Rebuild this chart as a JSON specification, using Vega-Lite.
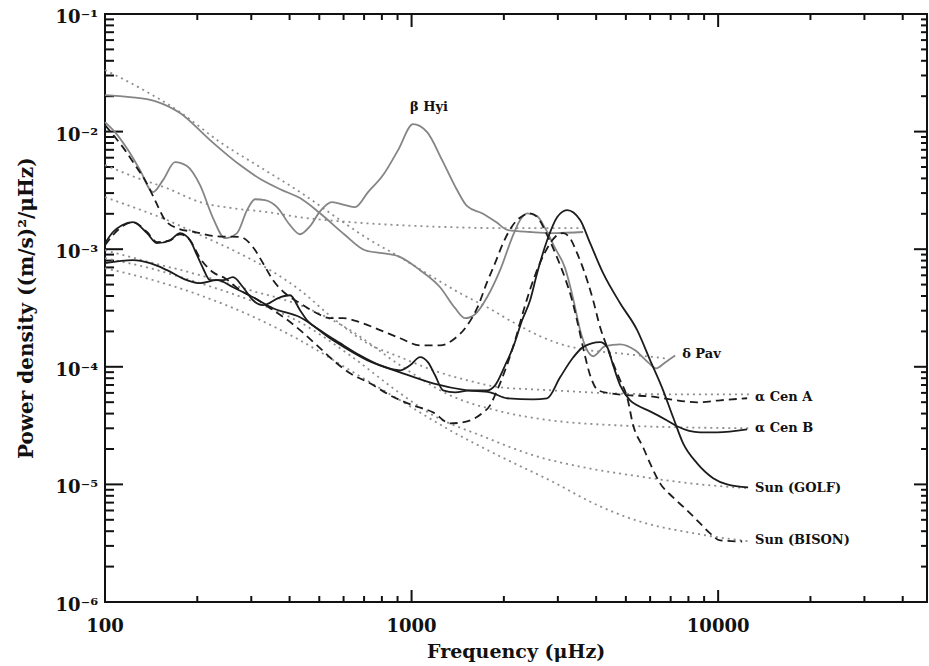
{
  "$schema": "https://vega.github.io/schema/vega-lite/v6.json",
  "autosize": {"type": "none"},
  "width": 822,
  "height": 588,
  "padding": {"left": 105, "top": 14, "right": 2, "bottom": 64},
  "background": "white",
  "config": {
    "view": {"stroke": "#111", "strokeWidth": 2}
  },
  "datasets": {
    "spectra": [
      {"star": "β Hyi", "f": 100, "p": 0.01205}, {"star": "β Hyi", "f": 107.8, "p": 0.0099}, {"star": "β Hyi", "f": 118.9, "p": 0.00696},
      {"star": "β Hyi", "f": 130.1, "p": 0.0047}, {"star": "β Hyi", "f": 143.4, "p": 0.00306}, {"star": "β Hyi", "f": 154.6, "p": 0.00387},
      {"star": "β Hyi", "f": 169.2, "p": 0.0055}, {"star": "β Hyi", "f": 185.1, "p": 0.00509}, {"star": "β Hyi", "f": 204.2, "p": 0.0035},
      {"star": "β Hyi", "f": 225.1, "p": 0.00184}, {"star": "β Hyi", "f": 246.4, "p": 0.00124}, {"star": "β Hyi", "f": 269.6, "p": 0.00137},
      {"star": "β Hyi", "f": 290.6, "p": 0.00215}, {"star": "β Hyi", "f": 308.6, "p": 0.00266}, {"star": "β Hyi", "f": 332.7, "p": 0.00261},
      {"star": "β Hyi", "f": 364.1, "p": 0.00228}, {"star": "β Hyi", "f": 401.4, "p": 0.0016}, {"star": "β Hyi", "f": 432.7, "p": 0.00134},
      {"star": "β Hyi", "f": 466.5, "p": 0.00157}, {"star": "β Hyi", "f": 502.8, "p": 0.0021}, {"star": "β Hyi", "f": 550.3, "p": 0.00251},
      {"star": "β Hyi", "f": 606.7, "p": 0.00237}, {"star": "β Hyi", "f": 654.1, "p": 0.00228}, {"star": "β Hyi", "f": 721.2, "p": 0.00306},
      {"star": "β Hyi", "f": 807.3, "p": 0.00427}, {"star": "β Hyi", "f": 903.6, "p": 0.00696}, {"star": "β Hyi", "f": 1011, "p": 0.01158},
      {"star": "β Hyi", "f": 1124, "p": 0.0099}, {"star": "β Hyi", "f": 1258, "p": 0.00572}, {"star": "β Hyi", "f": 1397, "p": 0.0033},
      {"star": "β Hyi", "f": 1518, "p": 0.00232}, {"star": "β Hyi", "f": 1698, "p": 0.00202}, {"star": "β Hyi", "f": 1887, "p": 0.0017},
      {"star": "β Hyi", "f": 2065, "p": 0.00145}, {"star": "β Hyi", "f": 2436, "p": 0.0014}, {"star": "β Hyi", "f": 2939, "p": 0.00137},
      {"star": "β Hyi", "f": 3627, "p": 0.0014},

      {"star": "δ Pav", "f": 100, "p": 0.02044}, {"star": "δ Pav", "f": 120.6, "p": 0.01966}, {"star": "δ Pav", "f": 145.6, "p": 0.01818},
      {"star": "δ Pav", "f": 175.7, "p": 0.01437}, {"star": "δ Pav", "f": 220.1, "p": 0.00847}, {"star": "δ Pav", "f": 275.8, "p": 0.00519},
      {"star": "δ Pav", "f": 325.3, "p": 0.00387}, {"star": "δ Pav", "f": 378, "p": 0.00318}, {"star": "δ Pav", "f": 432.7, "p": 0.00272},
      {"star": "δ Pav", "f": 502.8, "p": 0.00202}, {"star": "δ Pav", "f": 606.7, "p": 0.00132}, {"star": "δ Pav", "f": 705.2, "p": 0.00098},
      {"star": "δ Pav", "f": 801.3, "p": 0.000925}, {"star": "δ Pav", "f": 903.6, "p": 0.000872}, {"star": "δ Pav", "f": 1066, "p": 0.000663},
      {"star": "δ Pav", "f": 1239, "p": 0.000475}, {"star": "δ Pav", "f": 1387, "p": 0.000315}, {"star": "δ Pav", "f": 1495, "p": 0.000259},
      {"star": "δ Pav", "f": 1612, "p": 0.00028}, {"star": "δ Pav", "f": 1763, "p": 0.00039}, {"star": "δ Pav", "f": 1944, "p": 0.000663},
      {"star": "δ Pav", "f": 2144, "p": 0.00132}, {"star": "δ Pav", "f": 2260, "p": 0.00177}, {"star": "δ Pav", "f": 2382, "p": 0.00202},
      {"star": "δ Pav", "f": 2567, "p": 0.00191}, {"star": "δ Pav", "f": 2726, "p": 0.00151}, {"star": "δ Pav", "f": 2939, "p": 0.00102},
      {"star": "δ Pav", "f": 3168, "p": 0.00069}, {"star": "δ Pav", "f": 3365, "p": 0.00038}, {"star": "δ Pav", "f": 3547, "p": 0.000205},
      {"star": "δ Pav", "f": 3710, "p": 0.000144}, {"star": "δ Pav", "f": 3910, "p": 0.000123}, {"star": "δ Pav", "f": 4279, "p": 0.00015},
      {"star": "δ Pav", "f": 4790, "p": 0.000155}, {"star": "δ Pav", "f": 5362, "p": 0.000138}, {"star": "δ Pav", "f": 5908, "p": 0.000109},
      {"star": "δ Pav", "f": 6276, "p": 0.000097}, {"star": "δ Pav", "f": 6715, "p": 0.000109}, {"star": "δ Pav", "f": 7238, "p": 0.000125},

      {"star": "α Cen A", "f": 100, "p": 0.01136}, {"star": "α Cen A", "f": 107.8, "p": 0.00898}, {"star": "α Cen A", "f": 116.2, "p": 0.00696},
      {"star": "α Cen A", "f": 125.3, "p": 0.00519}, {"star": "α Cen A", "f": 135.1, "p": 0.00387}, {"star": "α Cen A", "f": 145.6, "p": 0.00261},
      {"star": "α Cen A", "f": 157, "p": 0.00177}, {"star": "α Cen A", "f": 171.8, "p": 0.00151}, {"star": "α Cen A", "f": 196.6, "p": 0.0014},
      {"star": "α Cen A", "f": 228.6, "p": 0.00129}, {"star": "α Cen A", "f": 275.8, "p": 0.00127}, {"star": "α Cen A", "f": 304, "p": 0.00104},
      {"star": "α Cen A", "f": 327.7, "p": 0.00076}, {"star": "α Cen A", "f": 353.3, "p": 0.000545}, {"star": "α Cen A", "f": 386.6, "p": 0.000422},
      {"star": "α Cen A", "f": 432.7, "p": 0.000347}, {"star": "α Cen A", "f": 484.3, "p": 0.000291}, {"star": "α Cen A", "f": 542.1, "p": 0.000259},
      {"star": "α Cen A", "f": 597.7, "p": 0.000259}, {"star": "α Cen A", "f": 679.2, "p": 0.000239}, {"star": "α Cen A", "f": 789.3, "p": 0.000205},
      {"star": "α Cen A", "f": 917.3, "p": 0.000175}, {"star": "α Cen A", "f": 1066, "p": 0.000152}, {"star": "α Cen A", "f": 1239, "p": 0.000152},
      {"star": "α Cen A", "f": 1387, "p": 0.000175}, {"star": "α Cen A", "f": 1495, "p": 0.000213}, {"star": "α Cen A", "f": 1636, "p": 0.000315},
      {"star": "α Cen A", "f": 1763, "p": 0.000524}, {"star": "α Cen A", "f": 1872, "p": 0.00076}, {"star": "α Cen A", "f": 1988, "p": 0.001125},
      {"star": "α Cen A", "f": 2128, "p": 0.00157}, {"star": "α Cen A", "f": 2294, "p": 0.00191}, {"star": "α Cen A", "f": 2436, "p": 0.00202},
      {"star": "α Cen A", "f": 2587, "p": 0.00184}, {"star": "α Cen A", "f": 2768, "p": 0.00132}, {"star": "α Cen A", "f": 2961, "p": 0.00089},
      {"star": "α Cen A", "f": 3168, "p": 0.000566}, {"star": "α Cen A", "f": 3339, "p": 0.000368}, {"star": "α Cen A", "f": 3494, "p": 0.000226},
      {"star": "α Cen A", "f": 3655, "p": 0.000133}, {"star": "α Cen A", "f": 3823, "p": 0.0000847}, {"star": "α Cen A", "f": 4060, "p": 0.0000631},
      {"star": "α Cen A", "f": 4443, "p": 0.0000595}, {"star": "α Cen A", "f": 5164, "p": 0.0000572}, {"star": "α Cen A", "f": 5997, "p": 0.0000561},
      {"star": "α Cen A", "f": 6971, "p": 0.0000529}, {"star": "α Cen A", "f": 8541, "p": 0.0000499}, {"star": "α Cen A", "f": 10150, "p": 0.0000519},
      {"star": "α Cen A", "f": 12432, "p": 0.000054},

      {"star": "α Cen B", "f": 100, "p": 0.00076}, {"star": "α Cen B", "f": 123.4, "p": 0.000806}, {"star": "α Cen B", "f": 140.3, "p": 0.00076},
      {"star": "α Cen B", "f": 159.4, "p": 0.000663}, {"star": "α Cen B", "f": 185.1, "p": 0.000545}, {"star": "α Cen B", "f": 204.2, "p": 0.000514},
      {"star": "α Cen B", "f": 232, "p": 0.000545}, {"star": "α Cen B", "f": 261.6, "p": 0.000475}, {"star": "α Cen B", "f": 304, "p": 0.00039},
      {"star": "α Cen B", "f": 353.3, "p": 0.000315}, {"star": "α Cen B", "f": 432.7, "p": 0.000264}, {"star": "α Cen B", "f": 554.4, "p": 0.000168},
      {"star": "α Cen B", "f": 715.9, "p": 0.000114}, {"star": "α Cen B", "f": 917.3, "p": 0.0000898}, {"star": "α Cen B", "f": 1175, "p": 0.0000724},
      {"star": "α Cen B", "f": 1518, "p": 0.0000631}, {"star": "α Cen B", "f": 1803, "p": 0.0000607}, {"star": "α Cen B", "f": 2049, "p": 0.000054},
      {"star": "α Cen B", "f": 2491, "p": 0.0000529}, {"star": "α Cen B", "f": 2768, "p": 0.000054}, {"star": "α Cen B", "f": 3051, "p": 0.0000814},
      {"star": "α Cen B", "f": 3365, "p": 0.00012}, {"star": "α Cen B", "f": 3627, "p": 0.000147}, {"star": "α Cen B", "f": 4121, "p": 0.000162},
      {"star": "α Cen B", "f": 4344, "p": 0.000147}, {"star": "α Cen B", "f": 4544, "p": 0.000103}, {"star": "α Cen B", "f": 4790, "p": 0.0000696},
      {"star": "α Cen B", "f": 5164, "p": 0.0000519}, {"star": "α Cen B", "f": 5443, "p": 0.000047}, {"star": "α Cen B", "f": 5997, "p": 0.0000418},
      {"star": "α Cen B", "f": 6816, "p": 0.000035}, {"star": "α Cen B", "f": 7347, "p": 0.0000312}, {"star": "α Cen B", "f": 8736, "p": 0.0000277},
      {"star": "α Cen B", "f": 9925, "p": 0.0000277}, {"star": "α Cen B", "f": 12432, "p": 0.0000294},

      {"star": "Sun (GOLF)", "f": 100, "p": 0.001125}, {"star": "Sun (GOLF)", "f": 106.2, "p": 0.0014}, {"star": "Sun (GOLF)", "f": 113.6, "p": 0.0016},
      {"star": "Sun (GOLF)", "f": 123.4, "p": 0.0017}, {"star": "Sun (GOLF)", "f": 137.1, "p": 0.00137}, {"star": "Sun (GOLF)", "f": 147.8, "p": 0.001125},
      {"star": "Sun (GOLF)", "f": 162.9, "p": 0.00119}, {"star": "Sun (GOLF)", "f": 175.7, "p": 0.00137}, {"star": "Sun (GOLF)", "f": 189.4, "p": 0.00119},
      {"star": "Sun (GOLF)", "f": 199.6, "p": 0.000889}, {"star": "Sun (GOLF)", "f": 208.8, "p": 0.000689}, {"star": "Sun (GOLF)", "f": 220.1, "p": 0.000545},
      {"star": "Sun (GOLF)", "f": 242.7, "p": 0.000545}, {"star": "Sun (GOLF)", "f": 261.6, "p": 0.000578}, {"star": "Sun (GOLF)", "f": 282, "p": 0.000475},
      {"star": "Sun (GOLF)", "f": 304, "p": 0.000368}, {"star": "Sun (GOLF)", "f": 327.7, "p": 0.000334}, {"star": "Sun (GOLF)", "f": 372.4, "p": 0.00039},
      {"star": "Sun (GOLF)", "f": 401.4, "p": 0.000406}, {"star": "Sun (GOLF)", "f": 432.7, "p": 0.000303}, {"star": "Sun (GOLF)", "f": 456.1, "p": 0.000249},
      {"star": "Sun (GOLF)", "f": 502.8, "p": 0.000205}, {"star": "Sun (GOLF)", "f": 584.4, "p": 0.000159}, {"star": "Sun (GOLF)", "f": 679.2, "p": 0.000125},
      {"star": "Sun (GOLF)", "f": 789.3, "p": 0.000103}, {"star": "Sun (GOLF)", "f": 917.3, "p": 0.0000934}, {"star": "Sun (GOLF)", "f": 988.8, "p": 0.000103},
      {"star": "Sun (GOLF)", "f": 1066, "p": 0.000121}, {"star": "Sun (GOLF)", "f": 1132, "p": 0.000109}, {"star": "Sun (GOLF)", "f": 1193, "p": 0.0000847},
      {"star": "Sun (GOLF)", "f": 1267, "p": 0.0000631}, {"star": "Sun (GOLF)", "f": 1387, "p": 0.0000607}, {"star": "Sun (GOLF)", "f": 1552, "p": 0.0000631},
      {"star": "Sun (GOLF)", "f": 1763, "p": 0.0000631}, {"star": "Sun (GOLF)", "f": 1872, "p": 0.0000696}, {"star": "Sun (GOLF)", "f": 2019, "p": 0.000103},
      {"star": "Sun (GOLF)", "f": 2144, "p": 0.000147}, {"star": "Sun (GOLF)", "f": 2294, "p": 0.000249}, {"star": "Sun (GOLF)", "f": 2436, "p": 0.000368},
      {"star": "Sun (GOLF)", "f": 2567, "p": 0.000625}, {"star": "Sun (GOLF)", "f": 2768, "p": 0.00119}, {"star": "Sun (GOLF)", "f": 2983, "p": 0.00187},
      {"star": "Sun (GOLF)", "f": 3216, "p": 0.00215}, {"star": "Sun (GOLF)", "f": 3547, "p": 0.00177}, {"star": "Sun (GOLF)", "f": 3823, "p": 0.001125},
      {"star": "Sun (GOLF)", "f": 4215, "p": 0.000625}, {"star": "Sun (GOLF)", "f": 4790, "p": 0.000347}, {"star": "Sun (GOLF)", "f": 5443, "p": 0.000205},
      {"star": "Sun (GOLF)", "f": 5997, "p": 0.000114}, {"star": "Sun (GOLF)", "f": 6615, "p": 0.0000631}, {"star": "Sun (GOLF)", "f": 7130, "p": 0.0000372},
      {"star": "Sun (GOLF)", "f": 7688, "p": 0.0000223}, {"star": "Sun (GOLF)", "f": 8541, "p": 0.0000151}, {"star": "Sun (GOLF)", "f": 9632, "p": 0.0000113},
      {"star": "Sun (GOLF)", "f": 10700, "p": 0.00001}, {"star": "Sun (GOLF)", "f": 12526, "p": 0.00000943},

      {"star": "Sun (BISON)", "f": 100, "p": 0.00108}, {"star": "Sun (BISON)", "f": 106.2, "p": 0.00132}, {"star": "Sun (BISON)", "f": 111.9, "p": 0.00151},
      {"star": "Sun (BISON)", "f": 123.4, "p": 0.0017}, {"star": "Sun (BISON)", "f": 137.1, "p": 0.0014}, {"star": "Sun (BISON)", "f": 147.8, "p": 0.00115},
      {"star": "Sun (BISON)", "f": 162.9, "p": 0.00119}, {"star": "Sun (BISON)", "f": 175.7, "p": 0.00134}, {"star": "Sun (BISON)", "f": 189.4, "p": 0.00119},
      {"star": "Sun (BISON)", "f": 204.2, "p": 0.000838}, {"star": "Sun (BISON)", "f": 225.1, "p": 0.000637}, {"star": "Sun (BISON)", "f": 246.4, "p": 0.000566},
      {"star": "Sun (BISON)", "f": 275.8, "p": 0.000448}, {"star": "Sun (BISON)", "f": 308.6, "p": 0.000383}, {"star": "Sun (BISON)", "f": 345.4, "p": 0.000315},
      {"star": "Sun (BISON)", "f": 386.6, "p": 0.000259}, {"star": "Sun (BISON)", "f": 432.7, "p": 0.000205}, {"star": "Sun (BISON)", "f": 491.6, "p": 0.000152},
      {"star": "Sun (BISON)", "f": 554.4, "p": 0.000114}, {"star": "Sun (BISON)", "f": 630, "p": 0.000088}, {"star": "Sun (BISON)", "f": 732, "p": 0.0000724},
      {"star": "Sun (BISON)", "f": 851, "p": 0.0000572}, {"star": "Sun (BISON)", "f": 1011, "p": 0.000047}, {"star": "Sun (BISON)", "f": 1175, "p": 0.000041},
      {"star": "Sun (BISON)", "f": 1336, "p": 0.000033}, {"star": "Sun (BISON)", "f": 1518, "p": 0.0000344}, {"star": "Sun (BISON)", "f": 1698, "p": 0.0000402},
      {"star": "Sun (BISON)", "f": 1803, "p": 0.000047}, {"star": "Sun (BISON)", "f": 1901, "p": 0.0000631}, {"star": "Sun (BISON)", "f": 2019, "p": 0.0000934},
      {"star": "Sun (BISON)", "f": 2176, "p": 0.000168}, {"star": "Sun (BISON)", "f": 2346, "p": 0.000334}, {"star": "Sun (BISON)", "f": 2529, "p": 0.000601},
      {"star": "Sun (BISON)", "f": 2726, "p": 0.000943}, {"star": "Sun (BISON)", "f": 2939, "p": 0.00127}, {"star": "Sun (BISON)", "f": 3121, "p": 0.00137},
      {"star": "Sun (BISON)", "f": 3289, "p": 0.00124}, {"star": "Sun (BISON)", "f": 3467, "p": 0.000925}, {"star": "Sun (BISON)", "f": 3738, "p": 0.000545},
      {"star": "Sun (BISON)", "f": 3910, "p": 0.000368}, {"star": "Sun (BISON)", "f": 4121, "p": 0.000217}, {"star": "Sun (BISON)", "f": 4344, "p": 0.000147},
      {"star": "Sun (BISON)", "f": 4544, "p": 0.000107}, {"star": "Sun (BISON)", "f": 4790, "p": 0.0000768}, {"star": "Sun (BISON)", "f": 5049, "p": 0.000055},
      {"star": "Sun (BISON)", "f": 5282, "p": 0.0000318}, {"star": "Sun (BISON)", "f": 5691, "p": 0.0000207}, {"star": "Sun (BISON)", "f": 5997, "p": 0.0000151},
      {"star": "Sun (BISON)", "f": 6467, "p": 0.0000102}, {"star": "Sun (BISON)", "f": 7130, "p": 0.00000775}, {"star": "Sun (BISON)", "f": 7923, "p": 0.00000601},
      {"star": "Sun (BISON)", "f": 8736, "p": 0.00000466}, {"star": "Sun (BISON)", "f": 9416, "p": 0.00000383}, {"star": "Sun (BISON)", "f": 10150, "p": 0.00000334},
      {"star": "Sun (BISON)", "f": 11975, "p": 0.00000327}
    ],
    "fits": [
      {"star": "δ Pav", "f": 100, "p": 0.0334}, {"star": "δ Pav", "f": 130.1, "p": 0.02345}, {"star": "δ Pav", "f": 175.7, "p": 0.01466},
      {"star": "δ Pav", "f": 237.3, "p": 0.00814}, {"star": "δ Pav", "f": 320.4, "p": 0.00499}, {"star": "δ Pav", "f": 432.7, "p": 0.00306},
      {"star": "δ Pav", "f": 584.4, "p": 0.00177}, {"star": "δ Pav", "f": 715.9, "p": 0.00124}, {"star": "δ Pav", "f": 917.3, "p": 0.000855},
      {"star": "δ Pav", "f": 1175, "p": 0.000578}, {"star": "δ Pav", "f": 1440, "p": 0.000422}, {"star": "δ Pav", "f": 1763, "p": 0.000321},
      {"star": "δ Pav", "f": 2144, "p": 0.000239}, {"star": "δ Pav", "f": 2626, "p": 0.000182}, {"star": "δ Pav", "f": 3168, "p": 0.000152},
      {"star": "δ Pav", "f": 3823, "p": 0.000138}, {"star": "δ Pav", "f": 4790, "p": 0.00013}, {"star": "δ Pav", "f": 6715, "p": 0.000118},

      {"star": "β Hyi", "f": 100, "p": 0.00519}, {"star": "β Hyi", "f": 125.3, "p": 0.0041}, {"star": "β Hyi", "f": 159.4, "p": 0.0033},
      {"star": "β Hyi", "f": 204.2, "p": 0.00251}, {"star": "β Hyi", "f": 261.6, "p": 0.00223}, {"star": "β Hyi", "f": 337.7, "p": 0.00207},
      {"star": "β Hyi", "f": 432.7, "p": 0.00187}, {"star": "β Hyi", "f": 630, "p": 0.0017}, {"star": "β Hyi", "f": 917.3, "p": 0.0016},
      {"star": "β Hyi", "f": 1336, "p": 0.00154}, {"star": "β Hyi", "f": 1944, "p": 0.00151}, {"star": "β Hyi", "f": 3627, "p": 0.00151},

      {"star": "α Cen A", "f": 100, "p": 0.00277}, {"star": "α Cen A", "f": 123.4, "p": 0.00228}, {"star": "α Cen A", "f": 159.4, "p": 0.00177},
      {"star": "α Cen A", "f": 204.2, "p": 0.00132}, {"star": "α Cen A", "f": 261.6, "p": 0.00098}, {"star": "α Cen A", "f": 337.7, "p": 0.000689},
      {"star": "α Cen A", "f": 432.7, "p": 0.000448}, {"star": "α Cen A", "f": 554.4, "p": 0.000259}, {"star": "α Cen A", "f": 715.9, "p": 0.000159},
      {"star": "α Cen A", "f": 917.3, "p": 0.000121}, {"star": "α Cen A", "f": 1175, "p": 0.0000934}, {"star": "α Cen A", "f": 1518, "p": 0.0000768},
      {"star": "α Cen A", "f": 1944, "p": 0.0000669}, {"star": "α Cen A", "f": 2491, "p": 0.0000643}, {"star": "α Cen A", "f": 3289, "p": 0.0000619},
      {"star": "α Cen A", "f": 4443, "p": 0.0000595}, {"star": "α Cen A", "f": 7516, "p": 0.0000583}, {"star": "α Cen A", "f": 12717, "p": 0.0000583},

      {"star": "α Cen B", "f": 100, "p": 0.00098}, {"star": "α Cen B", "f": 140.3, "p": 0.000775}, {"star": "α Cen B", "f": 204.2, "p": 0.000601},
      {"star": "α Cen B", "f": 297.2, "p": 0.000448}, {"star": "α Cen B", "f": 432.7, "p": 0.000334}, {"star": "α Cen B", "f": 630, "p": 0.000205},
      {"star": "α Cen B", "f": 917.3, "p": 0.000103}, {"star": "α Cen B", "f": 1336, "p": 0.0000572}, {"star": "α Cen B", "f": 1944, "p": 0.0000418},
      {"star": "α Cen B", "f": 2831, "p": 0.0000351}, {"star": "α Cen B", "f": 4683, "p": 0.0000318}, {"star": "α Cen B", "f": 7516, "p": 0.0000306},
      {"star": "α Cen B", "f": 12717, "p": 0.00003},

      {"star": "Sun (GOLF)", "f": 100, "p": 0.000838}, {"star": "Sun (GOLF)", "f": 140.3, "p": 0.000689}, {"star": "Sun (GOLF)", "f": 204.2, "p": 0.000514},
      {"star": "Sun (GOLF)", "f": 297.2, "p": 0.000368}, {"star": "Sun (GOLF)", "f": 432.7, "p": 0.000239}, {"star": "Sun (GOLF)", "f": 630, "p": 0.000125},
      {"star": "Sun (GOLF)", "f": 917.3, "p": 0.0000595}, {"star": "Sun (GOLF)", "f": 1175, "p": 0.0000387}, {"star": "Sun (GOLF)", "f": 1711, "p": 0.0000256},
      {"star": "Sun (GOLF)", "f": 2491, "p": 0.0000177}, {"star": "Sun (GOLF)", "f": 3627, "p": 0.000014}, {"star": "Sun (GOLF)", "f": 5282, "p": 0.0000119},
      {"star": "Sun (GOLF)", "f": 8736, "p": 0.00001}, {"star": "Sun (GOLF)", "f": 12717, "p": 0.00000925},

      {"star": "Sun (BISON)", "f": 100, "p": 0.000689}, {"star": "Sun (BISON)", "f": 140.3, "p": 0.000555}, {"star": "Sun (BISON)", "f": 204.2, "p": 0.000406},
      {"star": "Sun (BISON)", "f": 297.2, "p": 0.000274}, {"star": "Sun (BISON)", "f": 432.7, "p": 0.000168}, {"star": "Sun (BISON)", "f": 630, "p": 0.0000934},
      {"star": "Sun (BISON)", "f": 917.3, "p": 0.0000519}, {"star": "Sun (BISON)", "f": 1336, "p": 0.0000288}, {"star": "Sun (BISON)", "f": 1944, "p": 0.0000173},
      {"star": "Sun (BISON)", "f": 2831, "p": 0.0000108}, {"star": "Sun (BISON)", "f": 4121, "p": 0.0000065}, {"star": "Sun (BISON)", "f": 5282, "p": 0.00000504},
      {"star": "Sun (BISON)", "f": 8736, "p": 0.00000376}, {"star": "Sun (BISON)", "f": 12717, "p": 0.00000327}
    ],
    "names": [
      {"star": "β Hyi", "f": 988, "p": 0.01616},
      {"star": "δ Pav", "f": 7630, "p": 0.000128},
      {"star": "α Cen A", "f": 13200, "p": 0.000055},
      {"star": "α Cen B", "f": 13200, "p": 0.00003},
      {"star": "Sun (GOLF)", "f": 13200, "p": 0.00000925},
      {"star": "Sun (BISON)", "f": 13200, "p": 0.00000334}
    ],
    "freqLabels": [
      {"text": "100", "f": 100, "p": 0.000000738},
      {"text": "1000", "f": 1000, "p": 0.000000738},
      {"text": "10000", "f": 10000, "p": 0.000000738}
    ],
    "powerLabels": [
      {"text": "10⁻⁶", "f": 94.9, "p": 0.000001},
      {"text": "10⁻⁵", "f": 94.9, "p": 0.00001},
      {"text": "10⁻⁴", "f": 94.9, "p": 0.0001},
      {"text": "10⁻³", "f": 94.9, "p": 0.001},
      {"text": "10⁻²", "f": 94.9, "p": 0.01},
      {"text": "10⁻¹", "f": 94.9, "p": 0.1}
    ],
    "axisTitles": [
      {"text": "Frequency (μHz)", "f": 2193, "p": 0.000000337, "dir": "x"},
      {"text": "Power density ((m/s)²/μHz)", "f": 59.98, "p": 0.0003148, "dir": "y"}
    ],
    "freqTicks": [
      {"f": 100, "major": true}, {"f": 200, "major": false}, {"f": 300, "major": false}, {"f": 400, "major": false}, {"f": 500, "major": false},
      {"f": 600, "major": false}, {"f": 700, "major": false}, {"f": 800, "major": false}, {"f": 900, "major": false},
      {"f": 1000, "major": true}, {"f": 2000, "major": false}, {"f": 3000, "major": false}, {"f": 4000, "major": false}, {"f": 5000, "major": false},
      {"f": 6000, "major": false}, {"f": 7000, "major": false}, {"f": 8000, "major": false}, {"f": 9000, "major": false},
      {"f": 10000, "major": true}, {"f": 20000, "major": false}, {"f": 30000, "major": false}, {"f": 40000, "major": false}
    ],
    "powerTicks": [
      {"p": 1e-6, "major": true}, {"p": 2e-6, "major": false}, {"p": 3e-6, "major": false}, {"p": 4e-6, "major": false}, {"p": 5e-6, "major": false},
      {"p": 6e-6, "major": false}, {"p": 7e-6, "major": false}, {"p": 8e-6, "major": false}, {"p": 9e-6, "major": false},
      {"p": 1e-5, "major": true}, {"p": 2e-5, "major": false}, {"p": 3e-5, "major": false}, {"p": 4e-5, "major": false}, {"p": 5e-5, "major": false},
      {"p": 6e-5, "major": false}, {"p": 7e-5, "major": false}, {"p": 8e-5, "major": false}, {"p": 9e-5, "major": false},
      {"p": 1e-4, "major": true}, {"p": 2e-4, "major": false}, {"p": 3e-4, "major": false}, {"p": 4e-4, "major": false}, {"p": 5e-4, "major": false},
      {"p": 6e-4, "major": false}, {"p": 7e-4, "major": false}, {"p": 8e-4, "major": false}, {"p": 9e-4, "major": false},
      {"p": 1e-3, "major": true}, {"p": 2e-3, "major": false}, {"p": 3e-3, "major": false}, {"p": 4e-3, "major": false}, {"p": 5e-3, "major": false},
      {"p": 6e-3, "major": false}, {"p": 7e-3, "major": false}, {"p": 8e-3, "major": false}, {"p": 9e-3, "major": false},
      {"p": 1e-2, "major": true}, {"p": 2e-2, "major": false}, {"p": 3e-2, "major": false}, {"p": 4e-2, "major": false}, {"p": 5e-2, "major": false},
      {"p": 6e-2, "major": false}, {"p": 7e-2, "major": false}, {"p": 8e-2, "major": false}, {"p": 9e-2, "major": false},
      {"p": 1e-1, "major": true}
    ]
  },
  "layer": [
    {
      "data": {"name": "freqTicks"},
      "transform": [{"filter": "datum.major"}],
      "mark": {"type": "rule", "color": "#111", "strokeWidth": 2},
      "encoding": {
        "x": {"field": "f", "type": "quantitative", "scale": {"type": "log", "domain": [100, 48000], "nice": false}, "axis": null},
        "y": {"datum": 0.000001, "scale": {"type": "log", "domain": [0.000001, 0.1], "nice": false}, "axis": null},
        "y2": {"datum": 0.000001265}
      }
    },
    {
      "data": {"name": "freqTicks"},
      "transform": [{"filter": "datum.major"}],
      "mark": {"type": "rule", "color": "#111", "strokeWidth": 2},
      "encoding": {
        "x": {"field": "f", "type": "quantitative", "axis": null},
        "y": {"datum": 0.1, "axis": null},
        "y2": {"datum": 0.0775}
      }
    },
    {
      "data": {"name": "freqTicks"},
      "transform": [{"filter": "!datum.major"}],
      "mark": {"type": "rule", "color": "#111", "strokeWidth": 2},
      "encoding": {
        "x": {"field": "f", "type": "quantitative", "axis": null},
        "y": {"datum": 0.000001, "axis": null},
        "y2": {"datum": 0.000001125}
      }
    },
    {
      "data": {"name": "freqTicks"},
      "transform": [{"filter": "!datum.major"}],
      "mark": {"type": "rule", "color": "#111", "strokeWidth": 2},
      "encoding": {
        "x": {"field": "f", "type": "quantitative", "axis": null},
        "y": {"datum": 0.1, "axis": null},
        "y2": {"datum": 0.0889}
      }
    },
    {
      "data": {"name": "powerTicks"},
      "transform": [{"filter": "datum.major"}],
      "mark": {"type": "rule", "color": "#111", "strokeWidth": 2},
      "encoding": {
        "y": {"field": "p", "type": "quantitative", "axis": null},
        "x": {"datum": 100, "axis": null},
        "x2": {"datum": 114.5}
      }
    },
    {
      "data": {"name": "powerTicks"},
      "transform": [{"filter": "datum.major"}],
      "mark": {"type": "rule", "color": "#111", "strokeWidth": 2},
      "encoding": {
        "y": {"field": "p", "type": "quantitative", "axis": null},
        "x": {"datum": 48000, "axis": null},
        "x2": {"datum": 43530}
      }
    },
    {
      "data": {"name": "powerTicks"},
      "transform": [{"filter": "!datum.major"}],
      "mark": {"type": "rule", "color": "#111", "strokeWidth": 2},
      "encoding": {
        "y": {"field": "p", "type": "quantitative", "axis": null},
        "x": {"datum": 100, "axis": null},
        "x2": {"datum": 107}
      }
    },
    {
      "data": {"name": "powerTicks"},
      "transform": [{"filter": "!datum.major"}],
      "mark": {"type": "rule", "color": "#111", "strokeWidth": 2},
      "encoding": {
        "y": {"field": "p", "type": "quantitative", "axis": null},
        "x": {"datum": 48000, "axis": null},
        "x2": {"datum": 45880}
      }
    },
    {
      "data": {"name": "fits"},
      "mark": {"type": "line", "interpolate": "monotone", "color": "#8e8e8e", "strokeWidth": 1.8, "strokeDash": [2, 4]},
      "encoding": {
        "x": {"field": "f", "type": "quantitative", "axis": null},
        "y": {"field": "p", "type": "quantitative", "axis": null},
        "detail": {"field": "star"}
      }
    },
    {
      "data": {"name": "spectra"},
      "transform": [{"filter": {"field": "star", "oneOf": ["β Hyi", "δ Pav"]}}],
      "mark": {"type": "line", "interpolate": "monotone", "color": "#858585", "strokeWidth": 1.8},
      "encoding": {
        "x": {"field": "f", "type": "quantitative", "axis": null},
        "y": {"field": "p", "type": "quantitative", "axis": null},
        "detail": {"field": "star"}
      }
    },
    {
      "data": {"name": "spectra"},
      "transform": [{"filter": {"field": "star", "oneOf": ["α Cen B", "Sun (GOLF)"]}}],
      "mark": {"type": "line", "interpolate": "monotone", "color": "#1c1c1c", "strokeWidth": 1.8},
      "encoding": {
        "x": {"field": "f", "type": "quantitative", "axis": null},
        "y": {"field": "p", "type": "quantitative", "axis": null},
        "detail": {"field": "star"}
      }
    },
    {
      "data": {"name": "spectra"},
      "transform": [{"filter": {"field": "star", "oneOf": ["α Cen A", "Sun (BISON)"]}}],
      "mark": {"type": "line", "interpolate": "monotone", "color": "#1c1c1c", "strokeWidth": 1.8, "strokeDash": [8, 5]},
      "encoding": {
        "x": {"field": "f", "type": "quantitative", "axis": null},
        "y": {"field": "p", "type": "quantitative", "axis": null},
        "detail": {"field": "star"}
      }
    },
    {
      "data": {"name": "names"},
      "mark": {"type": "text", "align": "left", "baseline": "middle", "font": "DejaVu Serif", "fontSize": 13, "fontWeight": "bold", "color": "#111"},
      "encoding": {
        "x": {"field": "f", "type": "quantitative", "axis": null},
        "y": {"field": "p", "type": "quantitative", "axis": null},
        "text": {"field": "star"}
      }
    },
    {
      "data": {"name": "freqLabels"},
      "mark": {"type": "text", "align": "center", "baseline": "top", "font": "DejaVu Serif", "fontSize": 18, "fontWeight": "bold", "color": "#111"},
      "encoding": {
        "x": {"field": "f", "type": "quantitative", "axis": null},
        "y": {"field": "p", "type": "quantitative", "axis": null},
        "text": {"field": "text"}
      }
    },
    {
      "data": {"name": "powerLabels"},
      "mark": {"type": "text", "align": "right", "baseline": "middle", "dy": 4, "font": "DejaVu Serif", "fontSize": 18, "fontWeight": "bold", "color": "#111"},
      "encoding": {
        "x": {"field": "f", "type": "quantitative", "axis": null},
        "y": {"field": "p", "type": "quantitative", "axis": null},
        "text": {"field": "text"}
      }
    },
    {
      "data": {"name": "axisTitles"},
      "transform": [{"filter": "datum.dir == 'x'"}],
      "mark": {"type": "text", "align": "center", "baseline": "alphabetic", "font": "DejaVu Serif", "fontSize": 19, "fontWeight": "bold", "color": "#111"},
      "encoding": {
        "x": {"field": "f", "type": "quantitative", "axis": null},
        "y": {"field": "p", "type": "quantitative", "axis": null},
        "text": {"field": "text"}
      }
    },
    {
      "data": {"name": "axisTitles"},
      "transform": [{"filter": "datum.dir == 'y'"}],
      "mark": {"type": "text", "align": "center", "baseline": "bottom", "angle": 270, "font": "DejaVu Serif", "fontSize": 20, "fontWeight": "bold", "color": "#111"},
      "encoding": {
        "x": {"field": "f", "type": "quantitative", "axis": null},
        "y": {"field": "p", "type": "quantitative", "axis": null},
        "text": {"field": "text"}
      }
    }
  ]
}
